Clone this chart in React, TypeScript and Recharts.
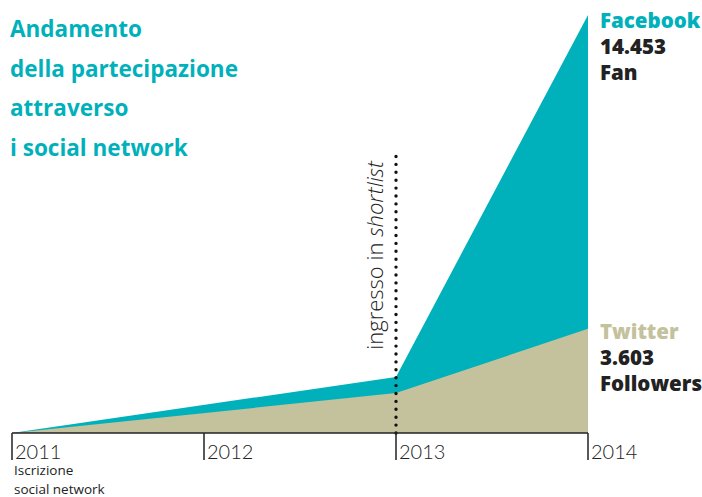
import React from 'react';
import { AreaChart, Area, XAxis, YAxis, ReferenceLine } from 'recharts';

// values (only the break points are drawn)
const years = [2011, 2013, 2014];
const facebookFans = [0, 1940, 14453];
const twitterFollowers = [0, 1380, 3603];
const tickYears = [2011, 2012, 2013, 2014];
const shortlistYear = 2013;
const shortlistTop = 9600;

const TEAL = '#00b1bb';
const BEIGE = '#c4c19d';
const INK = '#222222';

const chartData = years.map((year, i) => ({
  year,
  facebook: facebookFans[i],
  twitter: twitterFollowers[i],
}));

const YearTick = (props: any) => {
  const { x, y, payload } = props;
  return (
    <g>
      <text
        x={x + 3}
        y={y}
        dy={-3}
        fill={INK}
        fontSize={20}
        fontFamily="Lato"
        fontWeight={300}
      >
        {payload.value}
      </text>
      {payload.value === 2011 && (
        <>
          <text x={x + 2} y={y + 13} fill={INK} fontSize={13.5} fontFamily="Open Sans">
            Iscrizione
          </text>
          <text x={x + 2} y={y + 31.5} fill={INK} fontSize={13.5} fontFamily="Open Sans">
            social network
          </text>
        </>
      )}
    </g>
  );
};

const ShortlistLabel = (props: any) => {
  const { viewBox } = props;
  const cx = viewBox.x - 13;
  const cy = viewBox.y + 100;
  return (
    <text
      x={cx}
      y={cy}
      transform={`rotate(-90, ${cx}, ${cy})`}
      textAnchor="middle"
      fill={INK}
      fontSize={22}
      fontFamily="Open Sans"
      fontWeight={300}
    >
      ingresso in <tspan fontStyle="italic">shortlist</tspan>
    </text>
  );
};

const titleStyle: React.CSSProperties = {
  position: 'absolute',
  left: 10,
  top: 9,
  color: TEAL,
  fontFamily: 'Open Sans',
  fontWeight: 700,
  fontSize: 22.5,
  lineHeight: '39.5px',
};

const sideStyle: React.CSSProperties = {
  position: 'absolute',
  left: 600,
  fontFamily: 'Open Sans',
  fontWeight: 800,
  fontSize: 20.5,
  lineHeight: '26px',
  color: INK,
};

export default function App() {
  return (
    <div style={{ position: 'absolute', left: 0, top: 0, width: 702, height: 497, background: '#fff', overflow: 'hidden' }}>
      <AreaChart
        width={702}
        height={497}
        data={chartData}
        margin={{ top: 15, right: 114, left: 12, bottom: 0 }}
      >
        <XAxis
          dataKey="year"
          type="number"
          domain={[2011, 2014]}
          ticks={tickYears}
          interval={0}
          axisLine={{ stroke: INK, strokeWidth: 1.5 }}
          tickLine={{ stroke: INK, strokeWidth: 1.5 }}
          tickSize={27}
          tick={<YearTick />}
          height={64}
        />
        <YAxis hide domain={[0, 14453]} />
        <Area
          type="linear"
          dataKey="facebook"
          stroke="none"
          fill={TEAL}
          fillOpacity={1}
          isAnimationActive={false}
        />
        <Area
          type="linear"
          dataKey="twitter"
          stroke="none"
          fill={BEIGE}
          fillOpacity={1}
          isAnimationActive={false}
        />
        <ReferenceLine
          segment={[
            { x: shortlistYear, y: 0 },
            { x: shortlistYear, y: shortlistTop },
          ]}
          stroke="#111"
          strokeWidth={3.4}
          strokeDasharray="0 7.9"
          strokeLinecap="round"
          label={<ShortlistLabel />}
        />
      </AreaChart>
      <div style={titleStyle}>
        <div>Andamento</div>
        <div>della partecipazione</div>
        <div>attraverso</div>
        <div>i social network</div>
      </div>
      <div style={{ ...sideStyle, top: 7 }}>
        <div style={{ color: TEAL }}>Facebook</div>
        <div>14.453</div>
        <div>Fan</div>
      </div>
      <div style={{ ...sideStyle, top: 318 }}>
        <div style={{ color: BEIGE }}>Twitter</div>
        <div>3.603</div>
        <div>Followers</div>
      </div>
    </div>
  );
}
